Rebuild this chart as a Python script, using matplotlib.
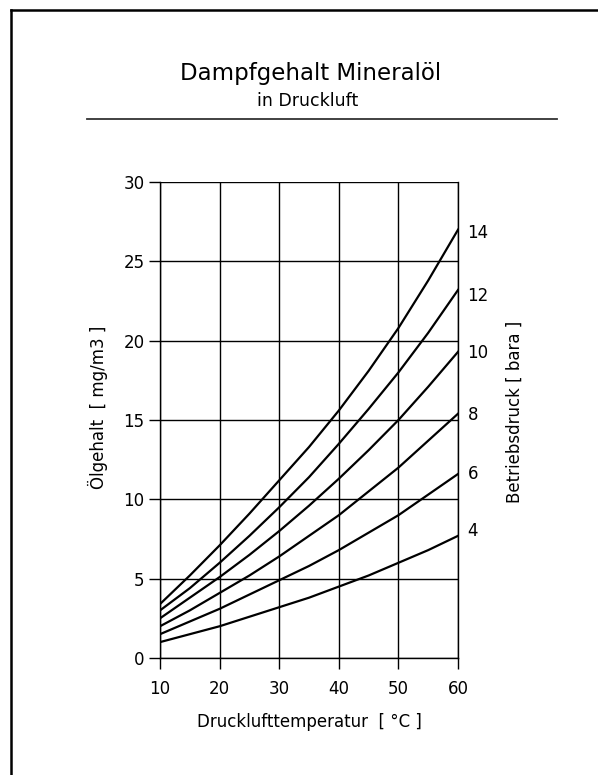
import numpy as np
import matplotlib.pyplot as plt

temp = [10, 15, 20, 25, 30, 35, 40, 45, 50, 55, 60]
druck = [14, 12, 10, 8, 6, 4]
oel = {
    14: [3.4, 5.2, 7.1, 9.1, 11.2, 13.3, 15.6, 18.1, 20.8, 23.8, 27.0],
    12: [3.0, 4.4, 6.0, 7.7, 9.5, 11.4, 13.5, 15.7, 18.0, 20.5, 23.2],
    10: [2.5, 3.8, 5.1, 6.5, 8.0, 9.6, 11.3, 13.1, 15.0, 17.1, 19.3],
    8: [2.0, 3.0, 4.1, 5.2, 6.4, 7.7, 9.0, 10.5, 12.0, 13.7, 15.4],
    6: [1.5, 2.3, 3.1, 4.0, 4.9, 5.8, 6.8, 7.9, 9.0, 10.3, 11.6],
    4: [1.0, 1.5, 2.0, 2.6, 3.2, 3.8, 4.5, 5.2, 6.0, 6.8, 7.7],
}
label_y = [26.8, 22.8, 19.2, 15.3, 11.6, 8.0]
xticks = [10, 20, 30, 40, 50, 60]

plt.rcParams['font.family'] = ['DejaVu Sans']

fig = plt.figure(figsize=(5.98, 7.75), dpi=100)
ax = fig.add_axes([0.2676, 0.151, 0.4983, 0.614])

for p in druck:
    ax.plot(temp, oel[p], color='black', lw=1.6)

ax.set_xlim(10, 60)
ax.set_ylim(0, 30)
ax.set_xticks(xticks)
ax.set_yticks(np.arange(0, 31, 5))
ax.grid(True, color='black', lw=1.0)
ax.tick_params(direction='out', length=8, width=1, labelsize=12, pad=3)
ax.tick_params(axis='x', pad=8)
for s in ax.spines.values():
    s.set_linewidth(1.0)
ax.spines['top'].set_visible(False)

for p, y in zip(druck, label_y):
    ax.text(61.6, y, str(p), fontsize=12, va='center', ha='left')

ax.set_xlabel('Drucklufttemperatur  [ °C ]', fontsize=12, labelpad=11)
fig.text(0.163, 0.474, 'Ölgehalt  [ mg/m3 ]', rotation=90, fontsize=12,
         ha='center', va='center')
fig.text(0.860, 0.468, 'Betriebsdruck [ bara ]', rotation=90, fontsize=12,
         ha='center', va='center')

fig.text(0.52, 0.8968, 'Dampfgehalt Mineralöl', fontsize=16.5, ha='center', va='baseline')
fig.text(0.514, 0.8626, 'in Druckluft', fontsize=12.5, ha='center', va='baseline')
fig.add_artist(plt.Line2D([0.145, 0.931], [0.846, 0.846], color='#333333', lw=1.3))

# Rahmen oben und links
fig.add_artist(plt.Line2D([0.0184, 1.0], [0.987, 0.987], color='black', lw=1.8))
fig.add_artist(plt.Line2D([0.0184, 0.0184], [0.0, 0.987], color='black', lw=1.8))

fig.savefig('out.png', dpi=100)
